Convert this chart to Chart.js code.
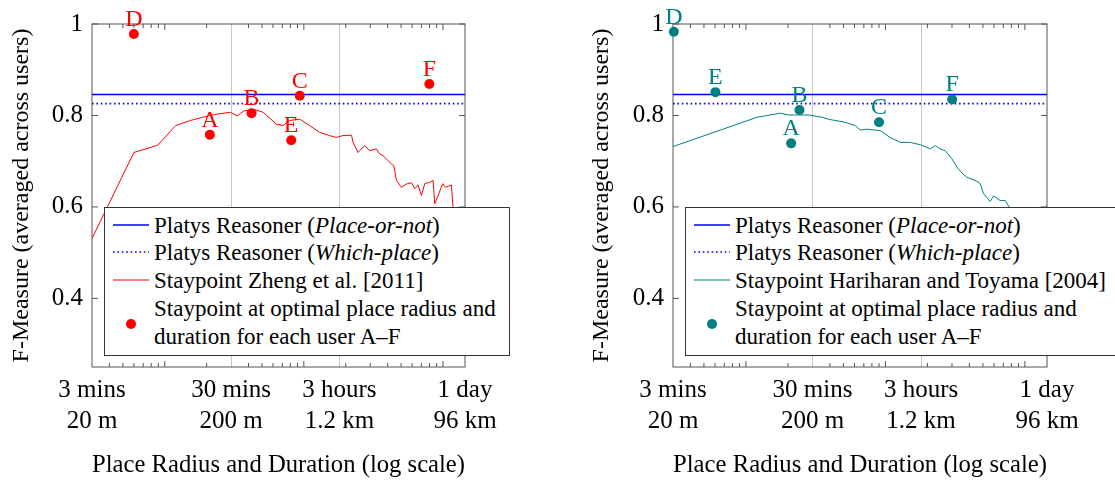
<!DOCTYPE html>
<html>
<head>
<meta charset="utf-8">
<script src="https://cdn.jsdelivr.net/npm/chart.js@4.4.0/dist/chart.umd.min.js"></script>
<style>
  html, body { margin: 0; padding: 0; background: #fff; overflow: hidden; }
  body { width: 1115px; height: 481px; position: relative; font-family: "Liberation Serif", "Times New Roman", serif; }
  .wrap { position: absolute; top: 0; height: 481px; }
  .legend { position: absolute; top: 207px; height: 149px; box-sizing: border-box; background: #fff;
            border: 1px solid #333; font-size: 23px; line-height: 28px; color: #000; overflow: hidden; }
  .row { position: absolute; left: 49px; white-space: nowrap; }
  .sample { position: absolute; left: 8px; line-height: 0; }
  .sample svg { display: block; }
</style>
</head>
<body>
<div class="wrap" style="left:0;width:557px"><canvas id="left"></canvas></div>
<div class="wrap" style="left:557px;width:558px"><canvas id="right"></canvas></div>

<div class="legend" id="legLeft" style="left:104px;width:406px"></div>
<div class="legend" id="legRight" style="left:685px;width:440px"></div>

<script>
// axis ticks
const xTickValues = [3, 30, 180, 1440];
const xTickLabels = [["3 mins", "20 m"], ["30 mins", "200 m"], ["3 hours", "1.2 km"], ["1 day", "96 km"]];
const xMinorTicks = [4, 5, 6, 7, 8, 9, 10, 20, 40, 50, 60, 70, 80, 90, 100, 200, 300, 400, 500, 600, 700, 800, 900, 1000];
const yTickValues = [0.4, 0.6, 0.8, 1];
const yTickLabels = ["0.4", "0.6", "0.8", "1"];

// Platys reasoner (flat lines)
const placeOrNot = 0.846;
const whichPlace = 0.826;

// Staypoint Zheng et al. [2011]
const zhengX = [3, 6.0, 8.9, 12.0, 15.3, 18.6, 23.8, 29.7, 33.1, 37, 44, 50.9, 63.5, 71, 79, 93.5,
  110, 130, 153, 171, 191, 220, 226, 245, 274, 297, 332, 351, 371, 426, 443, 463, 502, 546, 593,
  627, 662, 700, 740, 804, 849, 873, 923, 995, 1045, 1151, 1186, 1300, 1440];
const zhengY = [0.531, 0.719, 0.735, 0.778, 0.789, 0.796, 0.803, 0.807, 0.799, 0.81, 0.813, 0.807, 0.781, 0.778, 0.789, 0.792,
  0.778, 0.763, 0.756, 0.752, 0.756, 0.757, 0.741, 0.719, 0.734, 0.723, 0.727, 0.716, 0.712, 0.694, 0.690, 0.658, 0.643, 0.650, 0.653,
  0.640, 0.648, 0.625, 0.651, 0.654, 0.658, 0.607, 0.625, 0.651, 0.643, 0.648, 0.59, 0.57, 0.55];
const zhengUsers = ["A", "B", "C", "D", "E", "F"];
const zhengUserX = [21.1, 42.1, 93.5, 6.0, 81.1, 798];
const zhengUserY = [0.758, 0.805, 0.843, 0.978, 0.746, 0.869];

// Staypoint Hariharan and Toyama [2004]
const hariX = [3, 6, 12, 17.7, 20.3, 28.2, 35.2, 40.1, 50, 60.7, 65.9, 73.6, 91.7, 108, 128, 151, 178, 199,
  210, 228, 247, 268, 300, 326, 354, 384, 453, 478, 505, 564, 596, 665, 723, 764, 850, 1000, 1440];
const hariY = [0.732, 0.764, 0.796, 0.805, 0.801, 0.801, 0.796, 0.791, 0.786, 0.778, 0.768, 0.770, 0.767, 0.752, 0.741, 0.741, 0.736, 0.730,
  0.727, 0.734, 0.727, 0.723, 0.705, 0.687, 0.674, 0.665, 0.656, 0.651, 0.629, 0.612, 0.624, 0.614, 0.614, 0.602, 0.585, 0.56, 0.52];
const hariUsers = ["A", "B", "C", "D", "E", "F"];
const hariUserX = [21.1, 24.2, 90, 3.04, 6.04, 301];
const hariUserY = [0.739, 0.812, 0.785, 0.983, 0.851, 0.835];

const FONT = '"Liberation Serif", "Times New Roman", serif';
const BLUE = '#0000ff';

const pairs = (xs, ys) => xs.map((x, i) => ({x: x, y: ys[i]}));

const framePlugin = {
  id: 'frame',
  beforeDatasetsDraw(chart) {
    const {ctx, chartArea: a, scales: {x, y}} = chart;
    ctx.save();
    ctx.strokeStyle = '#555';
    ctx.lineWidth = 1;
    ctx.strokeRect(a.left, a.top, a.right - a.left, a.bottom - a.top);
    ctx.beginPath();
    yTickValues.forEach(v => {
      const p = y.getPixelForValue(v);
      ctx.moveTo(a.left, p); ctx.lineTo(a.left + 6, p);
      ctx.moveTo(a.right, p); ctx.lineTo(a.right - 6, p);
    });
    xMinorTicks.forEach(v => {
      const p = x.getPixelForValue(v);
      const len = (v === 10 || v === 100 || v === 1000) ? 6 : 4;
      ctx.moveTo(p, a.bottom); ctx.lineTo(p, a.bottom - len);
      ctx.moveTo(p, a.top); ctx.lineTo(p, a.top + len);
    });
    ctx.stroke();
    ctx.restore();
  },
  afterDraw(chart) {
    const {ctx} = chart;
    const users = chart.options.plugins.frame.users;
    const meta = chart.getDatasetMeta(0);
    ctx.save();
    ctx.font = '24px ' + FONT;
    ctx.fillStyle = chart.data.datasets[0].backgroundColor;
    ctx.textAlign = 'center';
    ctx.textBaseline = 'alphabetic';
    meta.data.forEach((pt, i) => ctx.fillText(users[i], pt.x, pt.y - 8));
    ctx.restore();
  }
};

function makeChart(id, color, curveX, curveY, users, ux, uy, padLeft, yWidth, padRight) {
  return new Chart(document.getElementById(id), {
    type: 'line',
    data: {
      datasets: [
        { type: 'scatter', data: pairs(ux, uy), backgroundColor: color, borderColor: color,
          pointRadius: 5, pointHoverRadius: 5, borderWidth: 0, showLine: false, clip: false, order: 0 },
        { data: pairs(curveX, curveY), borderColor: color, borderWidth: 1, pointRadius: 0, tension: 0, order: 1 },
        { data: pairs([3, 1440], [whichPlace, whichPlace]), borderColor: BLUE, borderWidth: 1.6,
          borderDash: [1.6, 2.8], pointRadius: 0, order: 2 },
        { data: pairs([3, 1440], [placeOrNot, placeOrNot]), borderColor: BLUE, borderWidth: 1.6, pointRadius: 0, order: 3 }
      ]
    },
    options: {
      responsive: true,
      maintainAspectRatio: false,
      animation: false,
      events: [],
      layout: { padding: { left: padLeft, right: padRight, top: 23, bottom: 0 } },
      plugins: { legend: { display: false }, tooltip: { enabled: false }, frame: { users: users } },
      scales: {
        x: {
          type: 'logarithmic', min: 3, max: 1440,
          afterBuildTicks: s => { s.ticks = xTickValues.map(v => ({value: v})); },
          afterFit: s => { s.height = 114; },
          grid: { drawTicks: false, lineWidth: 1,
                  color: c => (c.tick && (c.tick.value === 30 || c.tick.value === 180)) ? '#c8c8c8' : 'rgba(0,0,0,0)' },
          border: { display: false },
          ticks: { autoSkip: false, maxRotation: 0, padding: 7.5, color: '#000',
                   font: { family: FONT, size: 25, lineHeight: 31 / 25 },
                   callback: (v, i) => xTickLabels[i] },
          title: { display: true, text: 'Place Radius and Duration (log scale)', color: '#000',
                   font: { family: FONT, size: 25.5, lineHeight: 1.2 }, padding: { top: 0, bottom: 0 } }
        },
        y: {
          min: 0.25, max: 1,
          afterBuildTicks: s => { s.ticks = yTickValues.map(v => ({value: v})); },
          afterFit: s => { s.width = yWidth; },
          grid: { display: false, drawTicks: false },
          border: { display: false },
          ticks: { padding: 9, color: '#000', font: { family: FONT, size: 25 },
                   callback: (v, i) => yTickLabels[i] },
          title: { display: true, text: 'F-Measure (averaged across users)', color: '#000',
                   font: { family: FONT, size: 24, lineHeight: 1.2 }, padding: { top: 0, bottom: 0 } }
        }
      }
    },
    plugins: [framePlugin]
  });
}

makeChart('left', '#ff0000', zhengX, zhengY, zhengUsers, zhengUserX, zhengUserY, 7, 85, 92);
makeChart('right', '#008080', hariX, hariY, hariUsers, hariUserX, hariUserY, 30, 86, 68);

// legends
function lineSvg(stroke, dash, width) {
  return '<svg width="36" height="10"><line x1="0" y1="5" x2="36" y2="5" stroke="' + stroke +
    '" stroke-width="' + width + '"' + (dash ? ' stroke-dasharray="' + dash + '"' : '') + '/></svg>';
}
function dotSvg(fill) {
  return '<svg width="36" height="12"><circle cx="18" cy="6" r="5" fill="' + fill + '"/></svg>';
}
function fillLegend(id, color, name) {
  const el = document.getElementById(id);
  const rows = [
    { top: 4, sTop: 12, sample: lineSvg(BLUE, '', 1.6), text: 'Platys Reasoner (<i>Place-or-not</i>)' },
    { top: 31, sTop: 39, sample: lineSvg(BLUE, '1.6 2.8', 1.6), text: 'Platys Reasoner (<i>Which-place</i>)' },
    { top: 59, sTop: 67, sample: lineSvg(color, '', 1), text: name },
    { top: 87, sTop: 110, sample: dotSvg(color), text: 'Staypoint at optimal place radius and<br>duration for each user A–F' }
  ];
  el.innerHTML = rows.map(r =>
    '<div class="sample" style="top:' + r.sTop + 'px">' + r.sample + '</div>' +
    '<div class="row" style="top:' + r.top + 'px">' + r.text + '</div>'
  ).join('');
}
fillLegend('legLeft', '#ff0000', 'Staypoint Zheng et al. [2011]');
fillLegend('legRight', '#008080', 'Staypoint Hariharan and Toyama [2004]');
</script>
</body>
</html>
